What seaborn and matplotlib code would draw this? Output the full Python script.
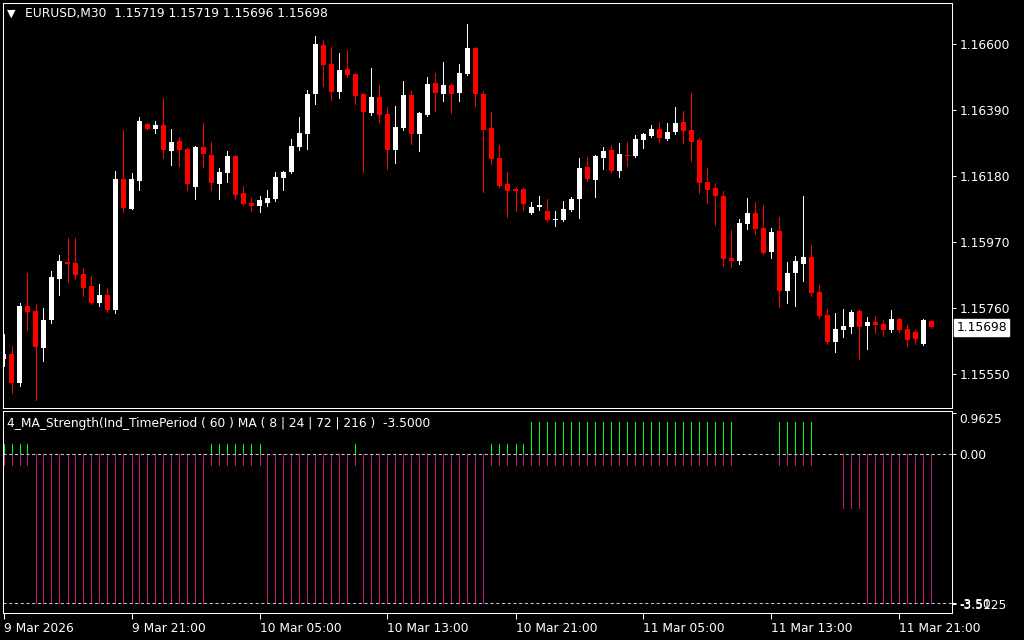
import numpy as np
import matplotlib
matplotlib.use("Agg")
import matplotlib.pyplot as plt
import matplotlib.transforms as mtransforms
import seaborn as sns

# EURUSD M30 bars, 9 Mar 13:00 .. 11 Mar 23:00
opens = [
    1.15598, 1.15614, 1.15521, 1.15766, 1.15750, 1.15633, 1.15722, 1.15852, 1.15906, 1.15903,
    1.15868, 1.15830, 1.15776, 1.15801, 1.15754, 1.16170, 1.16075, 1.16164, 1.16345, 1.16330,
    1.16342, 1.16260, 1.16291, 1.16266, 1.16145, 1.16272, 1.16247, 1.16155, 1.16190, 1.16244,
    1.16126, 1.16094, 1.16085, 1.16094, 1.16107, 1.16174, 1.16193, 1.16272, 1.16314, 1.16441,
    1.16597, 1.16536, 1.16447, 1.16520, 1.16505, 1.16441, 1.16380, 1.16431, 1.16377, 1.16263,
    1.16333, 1.16438, 1.16314, 1.16374, 1.16476, 1.16441, 1.16470, 1.16444, 1.16505, 1.16587,
    1.16441, 1.16333, 1.16237, 1.16155, 1.16139, 1.16139, 1.16062, 1.16081, 1.16069, 1.16040,
    1.16040, 1.16072, 1.16107, 1.16209, 1.16167, 1.16237, 1.16263, 1.16196, 1.16247, 1.16244,
    1.16295, 1.16307, 1.16330, 1.16298, 1.16320, 1.16352, 1.16326, 1.16295, 1.16161, 1.16142,
    1.16116, 1.15919, 1.15910, 1.16027, 1.16062, 1.16015, 1.15938, 1.16005, 1.15814, 1.15871,
    1.15900, 1.15922, 1.15811, 1.15738, 1.15652, 1.15690, 1.15700, 1.15750, 1.15703, 1.15715,
    1.15709, 1.15690, 1.15725, 1.15693, 1.15684, 1.15645, 1.15719,
]
highs = [
    1.15677, 1.15639, 1.15776, 1.15871, 1.15773, 1.15760, 1.15878, 1.15929, 1.15983, 1.15983,
    1.15887, 1.15862, 1.15836, 1.15824, 1.16196, 1.16326, 1.16190, 1.16368, 1.16348, 1.16355,
    1.16428, 1.16330, 1.16304, 1.16269, 1.16275, 1.16349, 1.16288, 1.16205, 1.16260, 1.16247,
    1.16148, 1.16110, 1.16116, 1.16135, 1.16193, 1.16196, 1.16298, 1.16368, 1.16454, 1.16625,
    1.16613, 1.16590, 1.16571, 1.16581, 1.16508, 1.16444, 1.16524, 1.16470, 1.16400, 1.16403,
    1.16482, 1.16450, 1.16383, 1.16495, 1.16508, 1.16543, 1.16473, 1.16536, 1.16664, 1.16590,
    1.16450, 1.16384, 1.16279, 1.16193, 1.16145, 1.16142, 1.16097, 1.16116, 1.16107, 1.16069,
    1.16100, 1.16113, 1.16237, 1.16240, 1.16247, 1.16272, 1.16279, 1.16285, 1.16288, 1.16310,
    1.16317, 1.16342, 1.16352, 1.16349, 1.16400, 1.16387, 1.16444, 1.16301, 1.16205, 1.16158,
    1.16132, 1.16008, 1.16043, 1.16110, 1.16097, 1.16088, 1.16015, 1.16050, 1.15906, 1.15925,
    1.16116, 1.15960, 1.15833, 1.15757, 1.15744, 1.15757, 1.15754, 1.15757, 1.15731, 1.15735,
    1.15722, 1.15754, 1.15728, 1.15706, 1.15690, 1.15725, 1.15719,
]
lows = [
    1.15575, 1.15490, 1.15512, 1.15690, 1.15467, 1.15591, 1.15712, 1.15801, 1.15843, 1.15852,
    1.15798, 1.15773, 1.15766, 1.15747, 1.15744, 1.16065, 1.16075, 1.16135, 1.16327, 1.16317,
    1.16237, 1.16215, 1.16212, 1.16135, 1.16107, 1.16209, 1.16135, 1.16107, 1.16161, 1.16107,
    1.16088, 1.16069, 1.16065, 1.16085, 1.16100, 1.16135, 1.16190, 1.16263, 1.16266, 1.16409,
    1.16466, 1.16422, 1.16428, 1.16495, 1.16409, 1.16193, 1.16374, 1.16352, 1.16202, 1.16221,
    1.16326, 1.16282, 1.16260, 1.16371, 1.16387, 1.16419, 1.16380, 1.16419, 1.16502, 1.16403,
    1.16129, 1.16218, 1.16145, 1.16050, 1.16069, 1.16072, 1.16059, 1.16072, 1.16037, 1.16021,
    1.16037, 1.16069, 1.16046, 1.16164, 1.16113, 1.16202, 1.16193, 1.16177, 1.16212, 1.16241,
    1.16269, 1.16304, 1.16288, 1.16295, 1.16314, 1.16285, 1.16228, 1.16126, 1.16094, 1.16024,
    1.15894, 1.15890, 1.15900, 1.16011, 1.15995, 1.15932, 1.15919, 1.15763, 1.15776, 1.15766,
    1.15846, 1.15798, 1.15728, 1.15645, 1.15620, 1.15668, 1.15680, 1.15598, 1.15630, 1.15680,
    1.15671, 1.15684, 1.15684, 1.15639, 1.15645, 1.15642, 1.15696,
]
closes = [
    1.15614, 1.15521, 1.15766, 1.15747, 1.15636, 1.15722, 1.15859, 1.15910, 1.15900, 1.15865,
    1.15824, 1.15776, 1.15801, 1.15754, 1.16170, 1.16078, 1.16170, 1.16355, 1.16330, 1.16342,
    1.16263, 1.16288, 1.16263, 1.16155, 1.16272, 1.16250, 1.16158, 1.16193, 1.16244, 1.16120,
    1.16091, 1.16085, 1.16104, 1.16110, 1.16177, 1.16193, 1.16275, 1.16317, 1.16441, 1.16600,
    1.16533, 1.16447, 1.16517, 1.16501, 1.16435, 1.16384, 1.16431, 1.16374, 1.16263, 1.16336,
    1.16438, 1.16314, 1.16380, 1.16473, 1.16444, 1.16470, 1.16441, 1.16508, 1.16587, 1.16441,
    1.16326, 1.16234, 1.16148, 1.16132, 1.16132, 1.16091, 1.16081, 1.16088, 1.16040, 1.16043,
    1.16075, 1.16107, 1.16205, 1.16170, 1.16244, 1.16260, 1.16196, 1.16250, 1.16244, 1.16298,
    1.16314, 1.16330, 1.16301, 1.16320, 1.16349, 1.16323, 1.16288, 1.16158, 1.16135, 1.16116,
    1.15916, 1.15910, 1.16030, 1.16062, 1.16011, 1.15935, 1.16002, 1.15814, 1.15871, 1.15910,
    1.15922, 1.15808, 1.15735, 1.15652, 1.15693, 1.15703, 1.15747, 1.15700, 1.15715, 1.15706,
    1.15690, 1.15725, 1.15690, 1.15658, 1.15661, 1.15722, 1.15698,
]

# 4_MA_Strength histogram buffers (up = green, down = magenta)
strength_up = [
    0.25, 0.25, 0.25, 0.25, 0, 0, 0, 0, 0, 0,
    0, 0, 0, 0, 0, 0, 0, 0, 0, 0,
    0, 0, 0, 0, 0, 0, 0.25, 0.25, 0.25, 0.25,
    0.25, 0.25, 0.25, 0, 0, 0, 0, 0, 0, 0,
    0, 0, 0, 0, 0.25, 0, 0, 0, 0, 0,
    0, 0, 0, 0, 0, 0, 0, 0, 0, 0,
    0, 0.25, 0.25, 0.25, 0.25, 0.25, 0.75, 0.75, 0.75, 0.75,
    0.75, 0.75, 0.75, 0.75, 0.75, 0.75, 0.75, 0.75, 0.75, 0.75,
    0.75, 0.75, 0.75, 0.75, 0.75, 0.75, 0.75, 0.75, 0.75, 0.75,
    0.75, 0.75, 0, 0, 0, 0, 0, 0.75, 0.75, 0.75,
    0.75, 0.75, 0, 0, 0, 0, 0, 0, 0, 0,
    0, 0, 0, 0, 0, 0, 0,
]
strength_down = [
    -0.25, -0.25, -0.25, -0.25, -3.5, -3.5, -3.5, -3.5, -3.5, -3.5,
    -3.5, -3.5, -3.5, -3.5, -3.5, -3.5, -3.5, -3.5, -3.5, -3.5,
    -3.5, -3.5, -3.5, -3.5, -3.5, -3.5, -0.25, -0.25, -0.25, -0.25,
    -0.25, -0.25, -0.25, -3.5, -3.5, -3.5, -3.5, -3.5, -3.5, -3.5,
    -3.5, -3.5, -3.5, -3.5, -0.25, -3.5, -3.5, -3.5, -3.5, -3.5,
    -3.5, -3.5, -3.5, -3.5, -3.5, -3.5, -3.5, -3.5, -3.5, -3.5,
    -3.5, -0.25, -0.25, -0.25, -0.25, -0.25, -0.25, -0.25, -0.25, -0.25,
    -0.25, -0.25, -0.25, -0.25, -0.25, -0.25, -0.25, -0.25, -0.25, -0.25,
    -0.25, -0.25, -0.25, -0.25, -0.25, -0.25, -0.25, -0.25, -0.25, -0.25,
    -0.25, -0.25, 0, 0, 0, 0, 0, -0.25, -0.25, -0.25,
    -0.25, -0.25, 0, 0, 0, -1.25, -1.25, -1.25, -3.5, -3.5,
    -3.5, -3.5, -3.5, -3.5, -3.5, -3.5, -3.5,
]

price_ticks = [1.15550, 1.15760, 1.15970, 1.16180, 1.16390, 1.16600]
label_bars = [0, 16, 32, 48, 64, 80, 96, 112]
time_labels = ["9 Mar 2026", "9 Mar 21:00", "10 Mar 05:00", "10 Mar 13:00",
               "10 Mar 21:00", "11 Mar 05:00", "11 Mar 13:00", "11 Mar 21:00"]
ind_ticks = [0.9625, 0.0, -3.5, -3.5125]
ind_tick_labels = ["0.9625", "0.00", "-3.50", "-3.5125"]

sns.set_theme(style="dark", rc={
    "figure.facecolor": "black", "axes.facecolor": "black", "savefig.facecolor": "black",
    "axes.edgecolor": "white", "axes.linewidth": 0.75, "axes.grid": False,
    "text.color": "white", "xtick.color": "white", "ytick.color": "white",
})
plt.rcParams["font.family"] = ["DejaVu Sans"]

W, H = 1024, 640
fig = plt.figure(figsize=(W / 100, H / 100), dpi=100)


def px_box(left, top, right, bottom):
    return [left / W, 1 - bottom / H, (right - left) / W, (bottom - top) / H]


ax = fig.add_axes(px_box(2.5, 3, 952, 408))
ax_ind = fig.add_axes(px_box(2.5, 411, 952, 613))

o, h, l, c = map(np.array, (opens, highs, lows, closes))
bars = np.arange(len(o))
colors = np.where(c >= o, "#ffffff", "#ff0000")

ylim = (1.154418, 1.167305)
one_px = (ylim[1] - ylim[0]) / 405
ax.vlines(bars, l, h, colors=colors, lw=0.6, antialiased=False)
ax.bar(bars, np.maximum(np.abs(c - o), one_px), bottom=np.minimum(o, c), width=0.625,
       color=colors, linewidth=0, antialiased=False)
ax.set_xlim(-0.125, 118.5625)
ax.set_ylim(*ylim)
ax.set_xticks([])
ax.set_yticks(price_ticks)
ax.set_yticklabels([f"{p:.5f}" for p in price_ticks])
ax.tick_params(axis="y", left=False, right=True, labelleft=False, labelright=True,
               length=3, width=0.75, pad=2.5, labelsize=8.8, colors="white")
for s in ax.spines.values():
    s.set_color("white")
    s.set_linewidth(0.75)

# current price tag
tr = mtransforms.blended_transform_factory(ax.transAxes, ax.transData)
ax.text(1.0045, c[-1], f"{c[-1]:.5f}", transform=tr, va="center", ha="left",
        fontsize=8.8, color="black",
        bbox=dict(boxstyle="square,pad=0.18", fc="white", ec="white"))

# indicator window
up = np.array(strength_up)
down = np.array(strength_down)
ax_ind.vlines(bars[up > 0], 0, up[up > 0], colors="#00ff00", lw=0.6, antialiased=False)
ax_ind.vlines(bars[down < 0], down[down < 0], 0, colors="#c71585", lw=0.6, antialiased=False)
for lvl in (0.0, -3.5):
    ax_ind.axhline(lvl, color="#c8c8c8", lw=0.75, ls=(0, (3, 2.5)))
ax_ind.set_xlim(-0.125, 118.5625)
ax_ind.set_ylim(-3.728, 1.017)
ax_ind.set_yticks(ind_ticks)
ax_ind.set_yticklabels(ind_tick_labels)
ax_ind.tick_params(axis="y", left=False, right=True, labelleft=False, labelright=True,
                   length=3, width=0.75, pad=2.5, labelsize=8.8, colors="white")
ax_ind.get_yticklabels()[0].set_va("top")
ax_ind.set_xticks(label_bars)
ax_ind.set_xticklabels(time_labels)
ax_ind.tick_params(axis="x", bottom=True, length=4, width=0.75, pad=2.5,
                   labelsize=8.8, colors="white")
for lbl in ax_ind.get_xticklabels():
    lbl.set_ha("left")
for s in ax_ind.spines.values():
    s.set_color("white")
    s.set_linewidth(0.75)

fig.text(7 / W, 1 - 13.5 / H, "\u25bc", fontsize=8, va="center", ha="left", color="white")
fig.text(25 / W, 1 - 14 / H,
         f"EURUSD,M30  {o[-1]:.5f} {h[-1]:.5f} {l[-1]:.5f} {c[-1]:.5f}",
         fontsize=8.8, va="center", ha="left", color="white")
fig.text(7 / W, 1 - 424 / H,
         "4_MA_Strength(Ind_TimePeriod ( 60 ) MA ( 8 | 24 | 72 | 216 )  -3.5000",
         fontsize=8.8, va="center", ha="left", color="white")

fig.savefig("out.png", dpi=100, facecolor="black")
